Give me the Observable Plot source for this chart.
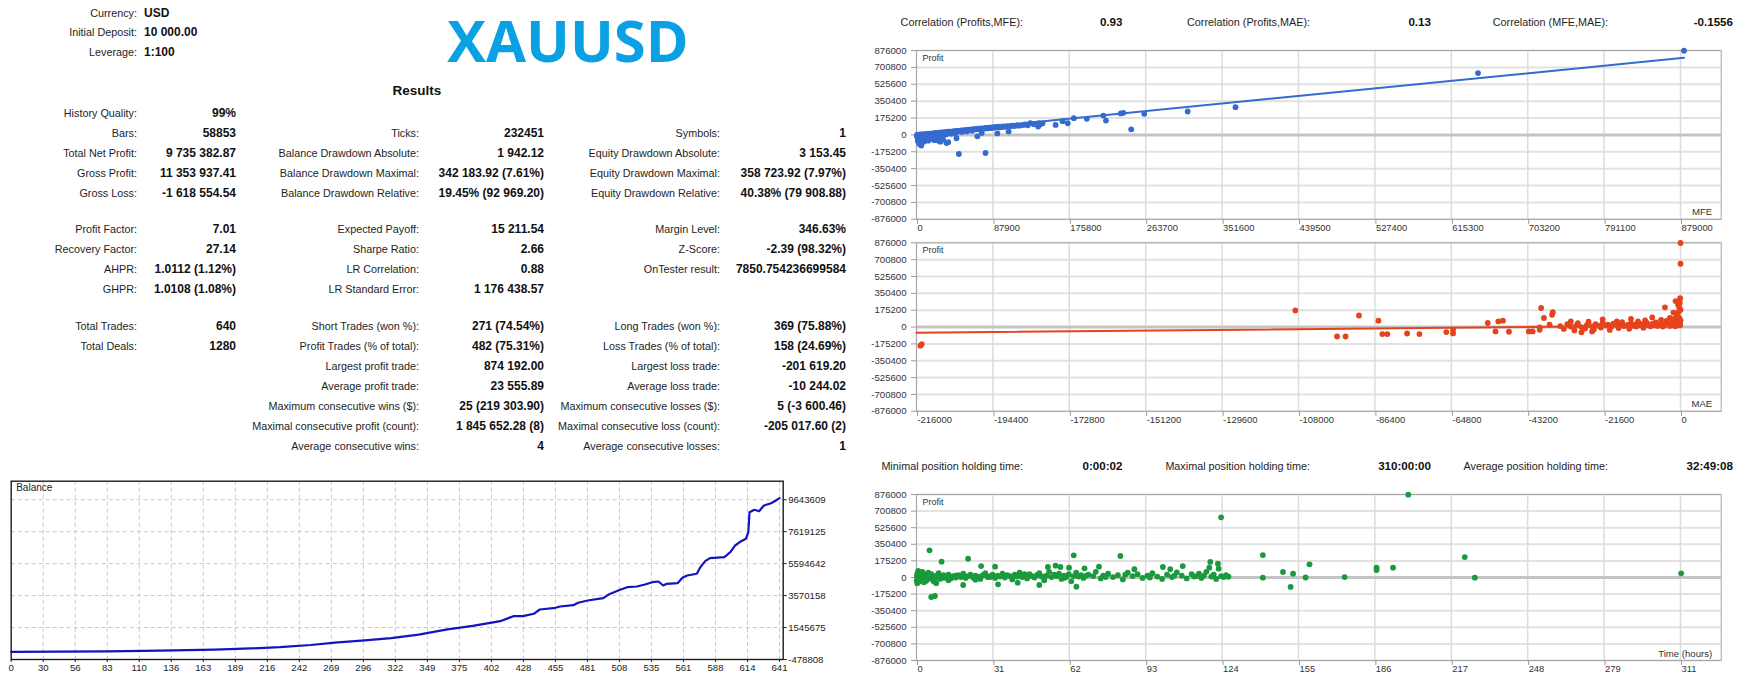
<!DOCTYPE html>
<html><head><meta charset="utf-8">
<script src="https://cdn.jsdelivr.net/npm/d3@7"></script>
<script src="https://cdn.jsdelivr.net/npm/@observablehq/plot@0.6"></script>
<style>
html,body{margin:0;padding:0;background:#fff;}
#root{position:relative;width:1754px;height:685px;overflow:hidden;font-family:"Liberation Sans",Arial,sans-serif;color:#1a1a1a;}
.t{position:absolute;white-space:nowrap;line-height:1;}
</style></head><body><div id="root"></div>
<script>
// ---------- DATA ----------
const headerLabels = ["Currency:", "Initial Deposit:", "Leverage:"];
const headerValues = ["USD", "10 000.00", "1:100"];
const symbolTitle = "XAUUSD";
const resultsTitle = "Results";

// [row, label, value]
const statsCol1 = [
  [0,"History Quality:","99%"],[1,"Bars:","58853"],[2,"Total Net Profit:","9 735 382.87"],
  [3,"Gross Profit:","11 353 937.41"],[4,"Gross Loss:","-1 618 554.54"],
  [5,"Profit Factor:","7.01"],[6,"Recovery Factor:","27.14"],[7,"AHPR:","1.0112 (1.12%)"],[8,"GHPR:","1.0108 (1.08%)"],
  [9,"Total Trades:","640"],[10,"Total Deals:","1280"]
];
const statsCol2 = [
  [1,"Ticks:","232451"],[2,"Balance Drawdown Absolute:","1 942.12"],[3,"Balance Drawdown Maximal:","342 183.92 (7.61%)"],
  [4,"Balance Drawdown Relative:","19.45% (92 969.20)"],
  [5,"Expected Payoff:","15 211.54"],[6,"Sharpe Ratio:","2.66"],[7,"LR Correlation:","0.88"],[8,"LR Standard Error:","1 176 438.57"],
  [9,"Short Trades (won %):","271 (74.54%)"],[10,"Profit Trades (% of total):","482 (75.31%)"],
  [11,"Largest profit trade:","874 192.00"],[12,"Average profit trade:","23 555.89"],
  [13,"Maximum consecutive wins ($):","25 (219 303.90)"],[14,"Maximal consecutive profit (count):","1 845 652.28 (8)"],
  [15,"Average consecutive wins:","4"]
];
const statsCol3 = [
  [1,"Symbols:","1"],[2,"Equity Drawdown Absolute:","3 153.45"],[3,"Equity Drawdown Maximal:","358 723.92 (7.97%)"],
  [4,"Equity Drawdown Relative:","40.38% (79 908.88)"],
  [5,"Margin Level:","346.63%"],[6,"Z-Score:","-2.39 (98.32%)"],[7,"OnTester result:","7850.754236699584"],
  [9,"Long Trades (won %):","369 (75.88%)"],[10,"Loss Trades (% of total):","158 (24.69%)"],
  [11,"Largest loss trade:","-201 619.20"],[12,"Average loss trade:","-10 244.02"],
  [13,"Maximum consecutive losses ($):","5 (-3 600.46)"],[14,"Maximal consecutive loss (count):","-205 017.60 (2)"],
  [15,"Average consecutive losses:","1"]
];
const corrLabels = ["Correlation (Profits,MFE):","Correlation (Profits,MAE):","Correlation (MFE,MAE):"];
const corrValues = ["0.93","0.13","-0.1556"];
const holdLabels = ["Minimal position holding time:","Maximal position holding time:","Average position holding time:"];
const holdValues = ["0:00:02","310:00:00","32:49:08"];

// Balance curve: trade number, balance (thousands)
const balTrade = [0,40,80,110,136,170,200,224,250,270,295,317,340,364,385,401,408,419,427,436,441,454,458,469,473,481,494,498,508,514,522,528,535,540,544,547,556,560,564,572,575,579,583,595,600,604,609,613,615,616,620,624,628,634,638,641];
const balValue = [10,20,40,65,95,150,220,300,440,590,730,870,1100,1430,1650,1860,1948,2265,2265,2417,2689,2797,2880,2962,3114,3260,3405,3621,3938,4102,4147,4255,4419,4464,4210,4318,4356,4698,4844,4952,5370,5750,5940,6003,6320,6745,7017,7169,7587,8855,9007,8918,9279,9425,9596,9745];
const balXLabels = [0,30,56,83,110,136,163,189,216,242,269,296,322,349,375,402,428,455,481,508,535,561,588,614,641];
const balYTicks = [-478808,1545675,3570158,5594642,7619125,9643609];

// Scatter axes
const profitTicks = [-876000,-700800,-525600,-350400,-175200,0,175200,350400,525600,700800,876000];
const mfeTicks = [0,87900,175800,263700,351600,439500,527400,615300,703200,791100,879000];
const maeTicks = [-216000,-194400,-172800,-151200,-129600,-108000,-86400,-64800,-43200,-21600,0];
const timeLabels = [0,31,62,93,124,155,186,217,248,279,311];

// MFE (k) vs profit (k)
const mfePts = [
[0.5,-5],[1,2],[1.5,-60],[2,-12],[2.5,-77],[3,3],[3.5,-95],[4,-20],[5,4],[5.5,-111],[6,-8],[7,5],[8,-30],[8.5,-70],[9,7],[10,2],[11,9],[12,-15],[12.5,-49],[13,10],[13.5,-60],[14,6],[15,12],[15.5,-40],[16,-40],[17,14],[18,10],[19,16],[20,-25],[20.5,-55],[21,18],[22,12],[23,20],[24,15],[25,22],[25.5,-62],[26,-10],[27,24],[27.5,-70],[28,18],[29,26],[30,20],[30.5,-45],[31,27],[32,22],[33,29],[34,5],[34.5,-84],[35,31],[36,26],[36.5,-75],[37,33],[38,28],[39,35],[40,30],[42,37],[43,32],[44,40],[45,36],[46,-35],[47,42],[48,38],[48.7,-198],[50,44],[51,40],[52,47],[54,43],[55,49],[56,45],[58,52],[59,47],[60,54],[62,50],[63,57],[65,55],[66,60],[68,58],[69,62],[70,-15],[71,64],[72,60],[74,67],[75,20],[76,63],[78,70],[79,66],[79.4,-188],[80,72],[82,68],[83,74],[85,71],[86,77],[88,74],[89,80],[90,76],[92,82],[93,15],[95,78],[96,85],[98,80],[100,88],[102,84],[104,92],[106,34],[108,90],[110,97],[113,92],[116,100],[118,96],[122,102],[125,108],[128,100],[131,122],[135,110],[138,118],[140,87],[141,122],[142,108],[145,120],[160,104],[168,142],[174,121],[181,174],[196,167],[215,201],[218,149],[235,223],[238,229],[247,58],[262,219],[312,243],[367,288],[646,642],[883,874],
[1,-25],[2,-40],[3,-30],[4,-8],[6,-45],[7,-20],[9,-38],[11,-22],[14,-28],[18,-12],[22,-20],[28,-5],[33,8],[40,12],[45,18],[52,30],[58,35],[64,42]
];
const mfeTrend = [[0,12],[883,800]];

// MAE (k) vs profit (k)
const maePts = [
[-214.9,-194],[-214.5,-177],[-108.9,173],[-97.1,-98],[-94.7,-98],[-90.9,120],[-85.4,66],[-84.3,-73],[-82.9,-73],[-77.3,-67],[-73.8,-73],[-66.2,-52],[-64.3,-28],[-64.3,-66],[-54.5,42],[-52.3,-46],[-51.5,58],[-50.2,66],[-48.5,-49],[-42.9,-46],[-41.8,-46],[-39.8,-4],[-39.8,-28],[-39.4,198],[-38.6,94],[-37,24],[-36.3,128],[-36.1,155],
[-34,10],[-33,-20],[-32,30],[-31,5],[-30,-35],[-29.5,15],[-29,40],[-28,0],[-27,-15],[-26.5,20],[-26,55],[-25,8],[-24.5,-25],[-24,30],[-23,12],[-22.5,-5],[-22,45],[-21,15],[-20.5,25],[-20,-30],[-19.5,5],[-19,35],[-18,18],[-17.5,-10],[-17,28],[-16.5,50],[-16,10],[-15,22],[-14.5,-18],[-14,38],[-13.5,12],[-13,25],[-12.5,5],[-12,60],[-11.5,18],[-11,30],[-10.5,-8],[-10,15],[-9.5,42],[-9,22],[-8.5,8],[-8,32],[-7.5,18],[-7,48],[-6.5,12],[-6,28],[-5.5,38],[-5,5],[-4.5,20],[-4,65],[-3.5,30],[-3,12],[-2.5,45],[-2,25],[-1.8,85],[-1.5,8],[-1.2,35],[-1,120],[-0.8,55],[-0.6,18],[-0.5,160],[-0.4,210],[-0.3,95],[-0.2,40],[-0.2,250],[-0.1,300],[0,70],[0,180],[-0.1,20],[0,658],[0,874],[-2,150],[-3,95],[-5.5,75],[-8,100],[-10,70],[-14,85],[-18,60],[-22,80],[-25,-45],[-28,-55],[-31,60],[-4.4,205],[-1.4,270],[-0.7,235]
];
const maeTrend = [[-216,-60],[0,15.6]];

// Holding time (hours) vs profit (k)
const timePts = [
[5.3,287],[10.2,167],[21,198],[26.3,121],[32,114],[6,-206],[7.5,-195],[19,-79],[33.2,-72],[41.2,-55],[50,-79],[64,234],[65.1,-97],[53.5,111],[56.6,125],[58.6,111],[62.1,104],[68.4,97],[74.3,114],[83,227],[88.7,87],[100.3,111],[108.4,121],[103.3,87],[119.6,164],[119.2,104],[122.7,146],[123,93],[124,635],[141,237],[141,-2],[149.2,58],[153.3,40],[152.3,-100],[158.4,0],[160,139],[174.3,5],[187.3,104],[187.3,79],[194,104],[200.2,874],[223.2,216],[227.3,-2],[311.3,44],
[0.1,-30],[0.2,20],[0.3,-60],[0.4,45],[0.5,5],[0.6,-15],[0.7,70],[0.8,30],[0.9,-45],[1,10],[1.2,-5],[1.4,55],[1.6,25],[1.8,-25],[2,0],[2.2,40],[2.5,-10],[2.8,15],[3,-50],[3.3,30],[3.6,5],[4,-35],[4.4,20],[4.8,50],[5.2,-10],[5.6,10],[6,35],[6.5,-20],[7,15],[7.5,0],[8,-60],[8.5,25],[9,5],[9.5,-15],[10,20],[11,-5],[12,10],[13,30],[14,-10],[15,15],[16,0],[17,25],[18,5],[19,40],[20,-5],[21,15],[22,30],[23,0],[24,20],[25,10],[26,-15],[27,25],[28,45],[29,5],[30,15],[31,30],[32,-5],[33,20],[34,10],[35,40],[36,0],[37,25],[38,15],[39,-20],[40,30],[41,10],[42,50],[43,5],[44,20],[45,-10],[46,35],[47,15],[48,0],[49,25],[50,45],[51,10],[52,-30],[53,20],[54,60],[55,5],[56,30],[57,15],[58,40],[59,-15],[60,20],[61,5],[62,35],[63,-40],[64,15],[65,50],[66,10],[67,25],[68,-5],[70,30],[72,15],[73,60],[75,-10],[76,20],[78,40],[80,5],[82,25],[84,-20],[86,50],[88,15],[90,35],[92,-5],[94,20],[96,45],[98,10],[100,-15],[102,30],[104,5],[106,55],[108,20],[110,-10],[112,35],[113,10],[115,40],[116,-5],[117,20],[118,60],[120,10],[121,30],[122,-15],[124,15],[125,5],[126,25],[127,8],
[0.3,10],[0.6,-40],[1.1,35],[1.5,-20],[2.4,60],[3.5,-25],[4.2,8],[5,30],[7,-40],[9,45],[11,25],[13,-30],[16,20],[20,10],[24,-25],[30,5],[36,20],[44,35],[52,8],[60,-5],[69,18],[77,5],[85,30],[95,0],[105,20],[114,15]
];

// ---------- LAYOUT / RENDER ----------
const root = document.getElementById("root");
function txt(x, y, s, o = {}) {
  const e = document.createElement("div");
  e.className = "t";
  e.textContent = s;
  e.style.left = x + "px"; e.style.top = y + "px";
  e.style.fontSize = (o.size || 10.8) + "px";
  e.style.fontWeight = o.w || "normal";
  e.style.color = o.c || "#1e1e1e";
  if (o.fam) e.style.fontFamily = o.fam;
  const tx = o.a === "end" ? "-100%" : o.a === "middle" ? "-50%" : "0";
  e.style.transform = `translate(${tx},-50%)`;
  root.appendChild(e);
  return e;
}
function place(svg, left, top) {
  svg.style.position = "absolute";
  svg.style.left = left + "px";
  svg.style.top = top + "px";
  root.appendChild(svg);
}

// header
const headY = [12.7, 32.3, 51.7];
headerLabels.forEach((l, i) => { txt(137, headY[i], l, {a: "end"}); txt(144, headY[i], headerValues[i], {w: "bold", size: 12, c: "#111"}); });
txt(568, 39.5, symbolTitle, {a: "middle", size: 58, w: "bold", c: "#0aa1e4", fam: "'Open Sans', 'DejaVu Sans', sans-serif"});
txt(417, 90.7, resultsTitle, {a: "middle", size: 13.5, w: "bold", c: "#111"});

// stats table
const rowY = [112.5,132.5,152.5,172.5,192.5, 229.3,249.3,269.3,289.3, 326,346,366,386,406,426,446];
const cols = [[statsCol1, 137, 236], [statsCol2, 419, 544], [statsCol3, 720, 846]];
cols.forEach(([rows, lx, vx]) => rows.forEach(([r, l, v]) => {
  txt(lx, rowY[r], l, {a: "end"});
  txt(vx, rowY[r], v, {a: "end", w: "bold", size: 12, c: "#111"});
}));

// right-side stats rows
const rLabelX = [1023, 1310, 1608], rValueX = [1122.5, 1431, 1733];
corrLabels.forEach((l, i) => { txt(rLabelX[i], 22.3, l, {a: "end", size: 10.8}); txt(rValueX[i], 22.3, corrValues[i], {a: "end", w: "bold", size: 11.6, c: "#111"}); });
holdLabels.forEach((l, i) => { txt(rLabelX[i], 466, l, {a: "end", size: 10.8}); txt(rValueX[i], 466, holdValues[i], {a: "end", w: "bold", size: 11.6, c: "#111"}); });

// ---------- Balance chart ----------
const balance = balTrade.map((t, i) => ({t, v: balValue[i] * 1000}));
const balXTicks = balXLabels.map((_, i) => i * 641 / 24);
const balXMap = new Map(balXTicks.map((t, i) => [t, String(balXLabels[i])]));
const balStep = balYTicks[1] - balYTicks[0];
const balPlot = Plot.plot({
  width: 850, height: 215,
  marginLeft: 10.7, marginRight: 67.3, marginTop: 10.7, marginBottom: 26,
  x: {domain: [0, 644.1], label: null},
  y: {domain: [balYTicks[0], balYTicks[0] + 5.58 * balStep], label: null},
  style: {fontFamily: "'Liberation Sans', Arial, sans-serif", fontSize: "9.6px", color: "#222", background: "transparent", overflow: "visible"},
  marks: [
    Plot.ruleY(balYTicks.slice(1), {stroke: "#c9c9c9", strokeDasharray: "4,3"}),
    Plot.ruleX(balXTicks.slice(1), {stroke: "#c9c9c9", strokeDasharray: "4,3"}),
    Plot.line(balance, {x: "t", y: "v", stroke: "#1313c0", strokeWidth: 2.2}),
    Plot.frame({stroke: "#1c1c1c", strokeWidth: 1.4}),
    Plot.axisY(balYTicks, {anchor: "right", tickSize: 3, tickPadding: 2, stroke: "#222", tickFormat: d => String(d), label: null}),
    Plot.axisX(balXTicks, {anchor: "bottom", tickSize: 3, tickPadding: 2, stroke: "#222", tickFormat: d => balXMap.get(d), label: null}),
    Plot.text(["Balance"], {frameAnchor: "top-left", dx: 5, dy: 3, text: d => d, fontSize: 10, fill: "#222"})
  ]
});
place(balPlot, 0, 470);

// ---------- Scatter charts ----------
function scatter({pts, xDomain, xTicks, xLabels, xUnit, color, trend, corner, top, height, mT, mB}) {
  const W = 880, L = 860;
  const xMap = new Map(xTicks.map((t, i) => [t, String(xLabels[i])]));
  const data = pts.map(([x, y]) => ({x: x * xUnit, y: y * 1000}));
  const marks = [
    Plot.ruleY(profitTicks, {stroke: "#e2e2e2", strokeWidth: 2}),
    Plot.ruleX(xTicks, {stroke: "#dcdcdc", strokeWidth: 1.5}),
    Plot.ruleY([0], {stroke: "#c4c4c4", strokeWidth: 3}),
    Plot.frame({stroke: "#a6a6a6"}),
    Plot.axisY(profitTicks, {tickSize: 5, tickPadding: 5, stroke: "#9a9a9a", tickFormat: d => String(d), label: null, fontSize: 9.6}),
    Plot.axisX(xTicks, {anchor: "bottom", tickSize: 5, tickPadding: 0, stroke: "#9a9a9a", textAnchor: "start", dx: 1, tickFormat: d => xMap.get(d), label: null, fontSize: 9.4}),
  ];
  if (trend) marks.push(Plot.line(trend.map(([x, y]) => ({x: x * xUnit, y: y * 1000})), {x: "x", y: "y", stroke: color, strokeWidth: 2}));
  marks.push(Plot.dot(data, {x: "x", y: "y", r: 2.9, fill: color}));
  marks.push(Plot.text(["Profit"], {frameAnchor: "top-left", dx: 6, dy: 4, text: d => d, fontSize: 9, fill: "#333"}));
  marks.push(Plot.text([corner], {frameAnchor: "bottom-right", dx: -9, dy: -4, text: d => d, fontSize: 9.6, fill: "#333"}));
  const p = Plot.plot({
    width: W, height,
    marginLeft: 916 - L, marginRight: W - (1720.7 - L), marginTop: mT, marginBottom: mB,
    x: {domain: xDomain, label: null},
    y: {domain: [-876000, 876000], label: null},
    style: {fontFamily: "'Liberation Sans', Arial, sans-serif", fontSize: "9.5px", color: "#333", background: "transparent", overflow: "visible"},
    marks
  });
  place(p, L, top);
}

scatter({pts: mfePts, xDomain: [0, 925800], xTicks: mfeTicks, xLabels: mfeTicks, xUnit: 1000, color: "#356bd0", trend: mfeTrend, corner: "MFE", top: 40, height: 200, mT: 10, mB: 21.2});
scatter({pts: maePts, xDomain: [-216000, 11507], xTicks: maeTicks, xLabels: maeTicks, xUnit: 1000, color: "#e6431d", trend: maeTrend, corner: "MAE", top: 232, height: 200, mT: 10.3, mB: 21.2});
const timeTicks = timeLabels.map((_, i) => i * 31.1);
scatter({pts: timePts, xDomain: [0, 327.6], xTicks: timeTicks, xLabels: timeLabels, xUnit: 1, color: "#1b9a3d", trend: null, corner: "Time (hours)", top: 483.5, height: 201.5, mT: 10, mB: 25.5});
</script></body></html>
